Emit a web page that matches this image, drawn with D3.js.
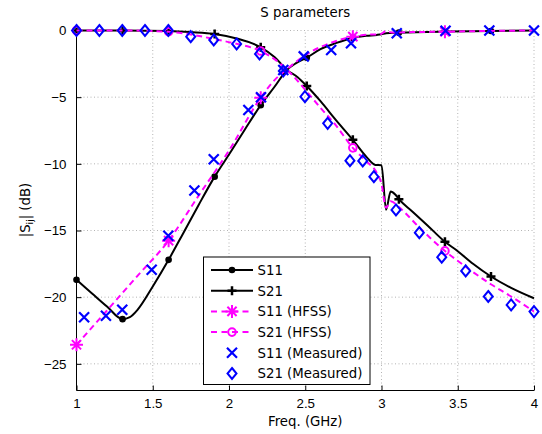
<!DOCTYPE html>
<html>
<head>
<meta charset="utf-8">
<script src="https://cdn.jsdelivr.net/npm/d3@7"></script>
<style>
  body { margin: 0; background: #fff; }
  svg { font-family: "DejaVu Sans", Arial, Helvetica, sans-serif; }
</style>
</head>
<body>
<svg id="chart" width="542" height="434"></svg>
<script>
// simulated S11 (black, dots)
const s11Freq = [1.0, 1.1, 1.2, 1.302, 1.35, 1.4, 1.5, 1.604, 1.7, 1.8, 1.906, 2.0, 2.1, 2.208, 2.3, 2.38, 2.44, 2.51, 2.6, 2.7, 2.812, 2.9, 2.97, 3.0, 3.03, 3.114, 3.416, 3.718, 4.0];
const s11Val  = [-18.7, -19.7, -20.7, -21.65, -21.5, -20.95, -19.2, -17.2, -15.2, -13.1, -10.96, -9.3, -7.5, -5.6, -4.2, -2.96, -2.45, -2.04, -1.4, -0.95, -0.56, -0.4, -0.33, -0.28, -0.2, -0.16, -0.08, -0.04, 0];

// simulated S21 (black, plus)
const s21Freq = [1.0, 1.302, 1.604, 1.75, 1.906, 2.05, 2.208, 2.3, 2.38, 2.45, 2.51, 2.6, 2.7, 2.812, 2.9, 2.96, 3.0, 3.03, 3.06, 3.09, 3.114, 3.2, 3.3, 3.416, 3.5, 3.6, 3.718, 3.85, 4.0];
const s21Val  = [0, 0, -0.04, -0.12, -0.26, -0.6, -1.26, -2.0, -2.96, -3.5, -4.16, -5.3, -6.7, -8.2, -9.46, -10.08, -10.1, -13.45, -12.08, -12.3, -12.65, -13.55, -14.6, -15.85, -16.55, -17.5, -18.45, -19.3, -20.08];

// HFSS S11 (magenta dashed, asterisk)
const hfssS11Freq = [1.0, 1.2, 1.4, 1.604, 1.8, 2.0, 2.208, 2.3, 2.38, 2.5, 2.65, 2.812, 2.95, 2.99, 3.03, 3.07, 3.2, 3.416, 3.72, 4.0];
const hfssS11Val  = [-23.57, -21.0, -18.4, -15.76, -12.4, -9.0, -5.04, -3.7, -2.9, -1.85, -1.0, -0.46, -0.3, -0.3, -0.05, -0.15, -0.12, -0.09, -0.03, 0];

// HFSS S21 (magenta dashed, circle)
const hfssS21Freq = [1.0, 1.302, 1.604, 1.75, 1.906, 2.05, 2.208, 2.334, 2.42, 2.5, 2.6, 2.7, 2.812, 2.9, 2.97, 3.0, 3.03, 3.06, 3.12, 3.25, 3.416, 3.55, 3.72, 3.85, 4.0];
const hfssS21Val  = [0, 0, -0.09, -0.3, -0.65, -1.0, -1.54, -2.46, -3.4, -4.45, -5.8, -7.1, -8.8, -9.8, -10.7, -11.5, -13.3, -12.8, -13.3, -14.8, -16.53, -17.7, -19.05, -19.95, -21.08];

// marker positions along the simulated curves
const simMarkerFreq  = [1.0, 1.302, 1.604, 1.906, 2.208, 2.51, 2.812, 3.114, 3.416, 3.718];
const hfssMarkerFreq = [1.0, 1.604, 2.208, 2.812, 3.416];

// measured S11 (blue x)
const measS11Freq = [1.05, 1.193, 1.30, 1.493, 1.602, 1.773, 1.90, 2.127, 2.21, 2.356, 2.49, 2.67, 2.80, 3.10, 3.42, 3.707, 4.0];
const measS11Val  = [-21.5, -21.4, -20.95, -17.95, -15.4, -12.0, -9.66, -5.96, -5.0, -2.96, -1.94, -1.46, -0.95, -0.21, -0.02, 0, 0];

// measured S21 (blue diamond)
const measS21Freq = [1.0, 1.15, 1.30, 1.449, 1.602, 1.749, 1.90, 2.05, 2.20, 2.356, 2.498, 2.647, 2.793, 2.877, 2.95, 3.095, 3.248, 3.395, 3.552, 3.70, 3.85, 4.0];
const measS21Val  = [0, 0, 0, 0, 0, -0.46, -0.71, -1.01, -1.76, -3.04, -4.96, -6.96, -9.76, -9.78, -10.96, -13.46, -15.16, -17.0, -18.03, -19.95, -20.58, -21.08];

const xTicks = [1, 1.5, 2, 2.5, 3, 3.5, 4];
const yTicks = [0, -5, -10, -15, -20, -25];
const legendLabels = ["S11", "S21", "S11 (HFSS)", "S21 (HFSS)", "S11 (Measured)", "S21 (Measured)"];

const FS = 13.3;
const svg = d3.select("#chart");
const x = d3.scaleLinear().domain([1, 4]).range([76.5, 534]);
const y = d3.scaleLinear().domain([-27, 0]).range([390.5, 30.5]);

const zip = (fs, vs) => fs.map((f, i) => ({ f: f, v: vs[i] }));
const at = (fs, vs, marks) => zip(fs, vs).filter(d => marks.includes(d.f));

// grid
const grid = svg.append("g").attr("stroke", "#b4b4b4").attr("stroke-dasharray", "1,2.5");
grid.selectAll(".gx").data(xTicks.slice(1)).enter().append("line")
  .attr("x1", d => x(d)).attr("x2", d => x(d))
  .attr("y1", y(-27)).attr("y2", y(0));
grid.selectAll(".gy").data(yTicks).enter().append("line")
  .attr("x1", x(1)).attr("x2", x(4))
  .attr("y1", d => y(d)).attr("y2", d => y(d));

// axes (matlab style, ticks inward, box off)
const fmt = d3.format("");
svg.append("g").attr("transform", `translate(0,${y(-27)})`)
  .call(d3.axisBottom(x).tickValues(xTicks).tickSize(-5).tickPadding(8).tickFormat(fmt))
  .call(g => g.select(".domain").attr("d", `M${x(1)},0H${x(4)}`))
  .call(g => g.selectAll("text").attr("font-size", FS).attr("fill", "#000").attr("font-family", null));
svg.append("g").attr("transform", `translate(${x(1)},0)`)
  .call(d3.axisLeft(y).tickValues(yTicks).tickSize(-5).tickPadding(10).tickFormat(fmt))
  .call(g => g.select(".domain").attr("d", `M0,${y(-27)}V${y(0)}`))
  .call(g => g.selectAll("text").attr("font-size", FS).attr("fill", "#000").attr("font-family", null));

// titles
svg.append("text").attr("x", x(2.5)).attr("y", 17).attr("text-anchor", "middle")
  .attr("font-size", FS).text("S parameters");
svg.append("text").attr("x", x(2.5)).attr("y", 426).attr("text-anchor", "middle")
  .attr("font-size", FS).text("Freq. (GHz)");
const yl = svg.append("text").attr("transform", "translate(30,210) rotate(-90)")
  .attr("text-anchor", "middle").attr("font-size", FS);
yl.append("tspan").text("|S");
yl.append("tspan").attr("font-size", 9).attr("dy", 3).text("ij");
yl.append("tspan").attr("dy", -3).text("| (dB)");

// marker painters
const markers = {
  dot: (g, px, py) => g.append("circle").attr("cx", px).attr("cy", py).attr("r", 3.3).attr("fill", "#000"),
  plus: (g, px, py) => g.append("path").attr("d", `M${px - 4.5},${py}H${px + 4.5}M${px},${py - 4.5}V${py + 4.5}`)
    .attr("stroke", "#000").attr("stroke-width", 2.5),
  star: (g, px, py) => g.append("path")
    .attr("d", `M${px - 6.5},${py}H${px + 6.5}M${px},${py - 6.5}V${py + 6.5}M${px - 4.6},${py - 4.6}L${px + 4.6},${py + 4.6}M${px - 4.6},${py + 4.6}L${px + 4.6},${py - 4.6}`)
    .attr("stroke", "#ff00ff").attr("stroke-width", 2),
  circ: (g, px, py) => g.append("circle").attr("cx", px).attr("cy", py).attr("r", 3.8)
    .attr("fill", "none").attr("stroke", "#ff00ff").attr("stroke-width", 2),
  cross: (g, px, py) => g.append("path").attr("d", `M${px - 5},${py - 5}L${px + 5},${py + 5}M${px - 5},${py + 5}L${px + 5},${py - 5}`)
    .attr("stroke", "#0000ff").attr("stroke-width", 2.2),
  diamond: (g, px, py) => g.append("path").attr("d", `M${px},${py - 5.5}L${px + 4.5},${py}L${px},${py + 5.5}L${px - 4.5},${py}Z`)
    .attr("fill", "none").attr("stroke", "#0000ff").attr("stroke-width", 2)
};

const line = d3.line().x(d => x(d.f)).y(d => y(d.v)).curve(d3.curveMonotoneX);
const series = [
  { pts: zip(s11Freq, s11Val), mk: at(s11Freq, s11Val, simMarkerFreq), color: "#000", dash: null, marker: "dot" },
  { pts: zip(s21Freq, s21Val), mk: at(s21Freq, s21Val, simMarkerFreq), color: "#000", dash: null, marker: "plus" },
  { pts: zip(hfssS11Freq, hfssS11Val), mk: at(hfssS11Freq, hfssS11Val, hfssMarkerFreq), color: "#ff00ff", dash: "6,4", marker: "star" },
  { pts: zip(hfssS21Freq, hfssS21Val), mk: at(hfssS21Freq, hfssS21Val, hfssMarkerFreq), color: "#ff00ff", dash: "6,4", marker: "circ" },
  { pts: null, mk: zip(measS11Freq, measS11Val), marker: "cross" },
  { pts: null, mk: zip(measS21Freq, measS21Val), marker: "diamond" }
];

series.forEach(s => {
  const g = svg.append("g");
  if (s.pts) {
    g.append("path").attr("d", line(s.pts)).attr("fill", "none")
      .attr("stroke", s.color).attr("stroke-width", 2)
      .attr("stroke-dasharray", s.dash);
  }
  s.mk.forEach(d => markers[s.marker](g, x(d.f), y(d.v)));
});

// legend
const lg = svg.append("g");
lg.append("rect").attr("x", 203.5).attr("y", 257).attr("width", 166.5).attr("height", 127.5)
  .attr("fill", "#fff").attr("stroke", "#000").attr("stroke-width", 1);
legendLabels.forEach((lab, i) => {
  const s = series[i];
  const cy = 270 + i * 20.7;
  if (s.pts) {
    lg.append("line").attr("x1", 211).attr("x2", 253).attr("y1", cy).attr("y2", cy)
      .attr("stroke", s.color).attr("stroke-width", 2).attr("stroke-dasharray", s.dash ? "6,4.5" : null);
  }
  markers[s.marker](lg, 232, cy);
  lg.append("text").attr("x", 257.5).attr("y", cy + 4.8).attr("font-size", FS).text(lab);
});
</script>
</body>
</html>
